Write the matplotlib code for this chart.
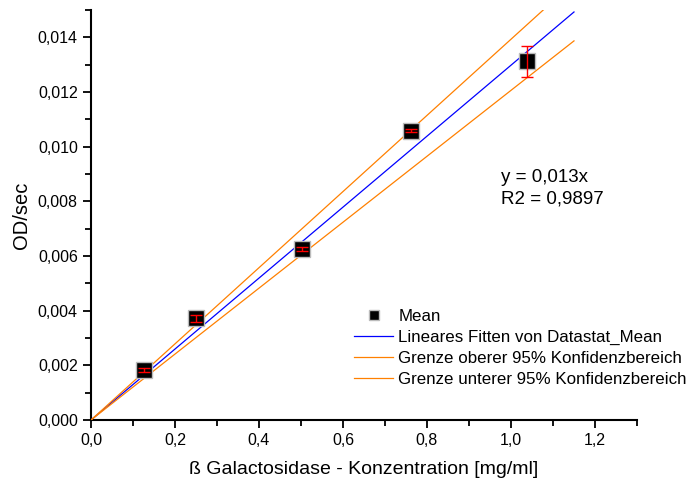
import numpy as np
import matplotlib
matplotlib.use("Agg")
import matplotlib.pyplot as plt
from matplotlib.ticker import MultipleLocator, FuncFormatter

plt.rcParams['font.family'] = ['Liberation Sans', 'DejaVu Sans']

# Measured means with standard deviations
conc = [0.126, 0.249, 0.503, 0.762, 1.039]
od_mean = [0.00183, 0.00372, 0.00626, 0.01059, 0.01313]
od_err = [0.00008, 0.00012, 0.00006, 0.00005, 0.00057]

# Linear fit through the origin and the 95% confidence limits (slopes)
slope_fit = 0.01298
slope_upper = 0.01393
slope_lower = 0.01206
fit_x = [0.0, 1.15]

fig = plt.figure(figsize=(6.93, 4.82), dpi=100)
ax = fig.add_axes([0.1313, 0.1286, 0.7879, 0.8507])

xs = np.array(fit_x)
ax.plot(xs, slope_fit * xs, color='#0000ff', lw=0.9, label='Lineares Fitten von Datastat_Mean', zorder=3)
ax.plot(xs, slope_upper * xs, color='#ff8000', lw=0.9, label='Grenze oberer 95% Konfidenzbereich', zorder=3)
ax.plot(xs, slope_lower * xs, color='#ff8000', lw=0.9, label='Grenze unterer 95% Konfidenzbereich', zorder=3)

ax.plot(conc, od_mean, ls='none', marker='s', ms=11, mfc='black', mec='#bbbbbb',
        mew=1.0, label='Mean', zorder=4)
ax.errorbar(conc, od_mean, yerr=od_err, fmt='none', ecolor='red', elinewidth=1.0,
            capsize=4, capthick=1.0, zorder=6)

ax.set_xlim(0, 1.3)
ax.set_ylim(0, 0.015)

ax.xaxis.set_major_locator(MultipleLocator(0.2))
ax.xaxis.set_minor_locator(MultipleLocator(0.1))
ax.yaxis.set_major_locator(MultipleLocator(0.002))
ax.yaxis.set_minor_locator(MultipleLocator(0.001))
ax.xaxis.set_major_formatter(FuncFormatter(lambda v, p: f"{v:.1f}".replace('.', ',')))
ax.yaxis.set_major_formatter(FuncFormatter(lambda v, p: f"{v:.3f}".replace('.', ',')))

for side in ('top', 'right'):
    ax.spines[side].set_visible(False)
for side in ('left', 'bottom'):
    ax.spines[side].set_linewidth(1.5)
ax.tick_params(which='major', direction='out', length=6, width=1.3, labelsize=11.5)
ax.tick_params(which='minor', direction='out', length=4, width=1.3)

ax.set_xlabel('ß Galactosidase - Konzentration [mg/ml]', fontsize=14, labelpad=9)
ax.set_ylabel('OD/sec', fontsize=14.5, labelpad=5)

ax.text(0.977, 0.00848, 'y = 0,013x\nR2 = 0,9897', fontsize=13.5, linespacing=1.35, va='center')

handles, labels = ax.get_legend_handles_labels()
order = [3, 0, 1, 2]
ax.legend([handles[i] for i in order], [labels[i] for i in order],
          loc='upper left', bbox_to_anchor=(0.470, 0.287), frameon=False,
          fontsize=12.2, handlelength=2.3, handletextpad=0.3, labelspacing=0.35,
          markerscale=0.6, borderaxespad=0)

fig.savefig('out.png', dpi=100)
